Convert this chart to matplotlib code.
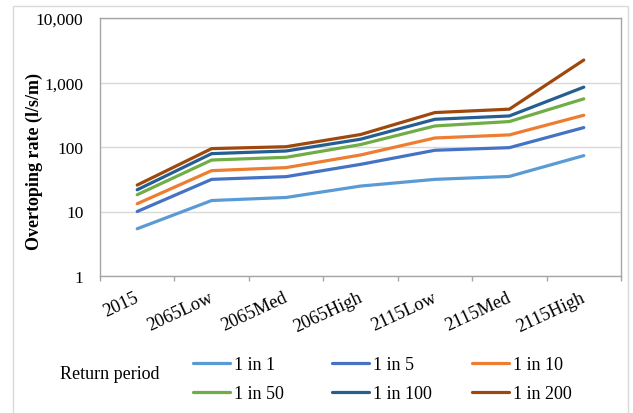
import matplotlib
matplotlib.use("Agg")
import matplotlib.pyplot as plt
from matplotlib.patches import Rectangle
from matplotlib.transforms import ScaledTranslation
from matplotlib.ticker import FixedLocator, FuncFormatter, NullFormatter

plt.rcParams['font.family'] = ['Liberation Serif', 'DejaVu Serif']

categories = ["2015", "2065Low", "2065Med", "2065High", "2115Low", "2115Med", "2115High"]
series_names = ["1 in 1", "1 in 5", "1 in 10", "1 in 50", "1 in 100", "1 in 200"]
rp_1 = [5.4, 14.8, 16.5, 24.8, 31.5, 35, 73.5]
rp_5 = [10, 31.5, 34.7, 53.8, 89, 97.7, 200]
rp_10 = [13.2, 43, 47.9, 75.2, 138, 154, 311]
rp_50 = [18.2, 62.8, 69.2, 109, 212, 248, 558]
rp_100 = [21.7, 78.9, 86.7, 132, 269, 303, 847]
rp_200 = [25.7, 94.4, 101, 156, 342, 386, 2230]
y_ticks = [1, 10, 100, 1000, 10000]
y_label = "Overtoping rate (l/s/m)"
legend_title = "Return period"

series = [rp_1, rp_5, rp_10, rp_50, rp_100, rp_200]
colors = ["#5B9BD5", "#4472C4", "#ED7D31", "#70AD47", "#255E91", "#9E480E"]

W, H = 633, 414
fig = plt.figure(figsize=(W / 100, H / 100), dpi=100)
fig.patches.append(Rectangle((13 / W, -0.05), (628 - 13) / W, 1.05 - 7 / H,
                             transform=fig.transFigure, fill=False,
                             edgecolor="#d9d9d9", linewidth=1.0))

ax = fig.add_axes([100 / W, 1 - 277 / H, (621 - 100) / W, (277 - 19) / H])
x = list(range(len(categories)))
handles = []
for vals, name, c in zip(series, series_names, colors):
    h, = ax.plot(x, vals, color=c, linewidth=2.3, label=name, solid_capstyle='round')
    handles.append(h)

ax.set_yscale('log')
ax.set_ylim(1, 10000)
ax.set_xlim(-0.5, len(categories) - 0.5)
ax.yaxis.set_major_locator(FixedLocator(y_ticks))
ax.yaxis.set_major_formatter(FuncFormatter(lambda v, p: f"{int(round(v)):,}"))
ax.yaxis.set_minor_formatter(NullFormatter())
ax.yaxis.set_minor_locator(FixedLocator([]))
ax.tick_params(axis='y', length=0, labelsize=12.5, pad=12)
ax.grid(axis='y', color="#d9d9d9", linewidth=1.0)
ax.set_axisbelow(True)

ax.set_xticks(x)
ax.set_xticklabels(categories, rotation=25, ha='right', rotation_mode='anchor', fontsize=13.2)
ax.tick_params(axis='x', which='major', length=0, pad=9)
offset = ScaledTranslation(-3 / 100, 0, fig.dpi_scale_trans)
for lbl in ax.get_xticklabels():
    lbl.set_transform(lbl.get_transform() + offset)
ax.set_xticks([i - 0.5 for i in range(len(categories) + 1)], minor=True)
ax.tick_params(axis='x', which='minor', length=3.5, color="#a6a6a6", width=1)

for s in ax.spines.values():
    s.set_color("#a6a6a6")
    s.set_linewidth(1.0)

fig.text(34 / W, 1 - 162 / H, y_label, rotation=90, fontsize=13, fontweight='bold',
         ha='center', va='center')

col_x = [193, 332, 472]
for col, cx in enumerate(col_x):
    idx = [col, col + 3]
    fig.legend([handles[i] for i in idx], [series_names[i] for i in idx],
               ncol=1, loc='upper left', bbox_to_anchor=(cx / W, 1 - 357 / H),
               frameon=False, fontsize=13, handlelength=2.05, handletextpad=0.2,
               labelspacing=0.67, borderpad=0, borderaxespad=0)
fig.text(60 / W, 1 - 375 / H, legend_title, fontsize=13, ha='left', va='center')

fig.savefig("out.png", dpi=100)
